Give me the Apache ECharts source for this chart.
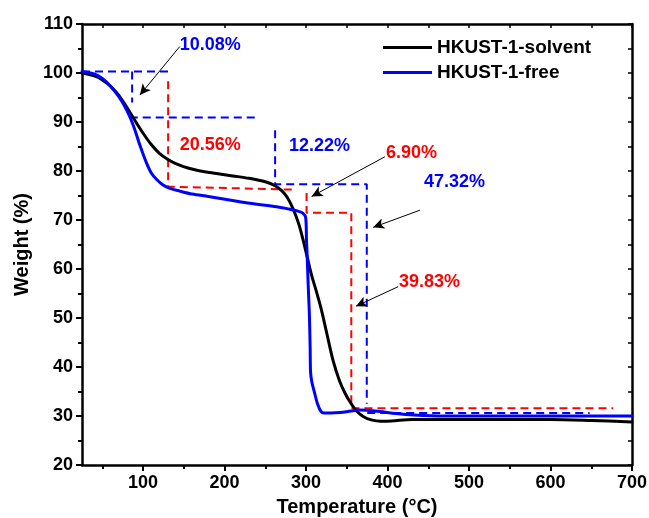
<!DOCTYPE html>
<html>
<head>
<meta charset="utf-8">
<script src="https://cdn.jsdelivr.net/npm/echarts@6/dist/echarts.min.js"></script>
<style>
  html, body { margin: 0; padding: 0; background: #fff; }
  #ec { width: 649px; height: 518px; }
</style>
</head>
<body>
<div id="ec"></div>
<script>
// TGA curves, [temperature, weight %]
const solvent = [
  [25, 100], [40, 99.4], [50, 98.6], [60, 97.3], [70, 95.5], [80, 93.0], [90, 90.3],
  [100, 87.7], [110, 85.4], [120, 83.6], [130, 82.4], [140, 81.5], [155, 80.6], [170, 80.0],
  [190, 79.5], [210, 79.0], [230, 78.5], [250, 77.8], [262, 77.0], [270, 76.0], [277, 74.6],
  [284, 72.3], [291, 69.2], [297, 65.5], [302, 62], [307, 58.6], [312, 55.8], [318, 52.2],
  [325, 47.2], [333, 41.4], [341, 37.2], [348, 34.6], [355, 32.6], [362, 31], [370, 29.9],
  [380, 29.2], [392, 28.95], [405, 29.0], [430, 29.3], [500, 29.3], [600, 29.3], [650, 29.1],
  [700, 28.8]
];
const free = [
  [25, 100.3], [40, 99.8], [50, 98.9], [60, 97.3], [70, 95.2], [80, 92.4], [88, 89.3],
  [96, 85.3], [104, 81.7], [110, 79.6], [117, 78.2], [124, 77.2], [132, 76.5], [145, 75.9],
  [160, 75.3], [180, 74.8], [206, 74.1], [231, 73.4], [264, 72.7], [280, 72.2], [290, 71.8],
  [296, 71.4], [299.5, 70.5], [300.5, 66], [301.5, 61.8], [303, 55], [304, 51], [305, 44],
  [305.5, 39], [307, 37], [310, 35], [314, 32.5], [318, 31], [322, 30.6], [330, 30.6],
  [342, 30.7], [355, 31], [366, 31.2], [378, 31.1], [391, 30.9], [410, 30.5], [432, 30.2],
  [470, 30.0], [550, 30.0], [700, 30.0]
];

// guide lines (dashed)
const blueSteps = [
  [[25, 100.3], [133, 100.3]],
  [[86.5, 100.3], [86.5, 94]],
  [[83.6, 90.9], [243, 90.9]],
  [[262, 88.3], [262, 77.3], [374.5, 77.3], [374.5, 32.5]],
  [[375, 30.6], [648, 30.6]]
];
const redSteps = [
  [[130.7, 98.3], [130.7, 76.8], [284, 76.2]],
  [[300.6, 75.5], [300.6, 71.5], [355.5, 71.5], [355.5, 31.6], [677, 31.6]]
];

// arrows: [from, to]
const arrows = [
  [[145, 105.4], [96, 95.5]],
  [[396.7, 82.9], [306.8, 74.8]],
  [[439.7, 72.0], [382.4, 68.5]],
  [[413.1, 56.4], [361.2, 52.4]]
];

const noteText = ["10.08%", "20.56%", "12.22%", "6.90%", "47.32%", "39.83%"];
const notePos = [[145, 105.7], [145, 85.3], [279, 85.1], [398, 83.7], [444.6, 77.8], [414, 57.3]];
const noteColor = ["#0000ff", "#ff0000", "#0000ff", "#ff0000", "#0000ff", "#ff0000"];

const xLabels = [100, 200, 300, 400, 500, 600, 700];
const xMinor = [50, 150, 250, 350, 450, 550, 650];
const xAll = [50, 100, 150, 200, 250, 300, 350, 400, 450, 500, 550, 600, 650, 700];

const font = "Arial, 'Liberation Sans', sans-serif";
const myChart = echarts.init(document.getElementById("ec"));

function dashed(data, color) {
  return {
    type: "line",
    data: data,
    showSymbol: false,
    silent: true,
    z: 3,
    lineStyle: { color: color, width: 2, type: [8, 5] },
  };
}

const series = [
  {
    name: "HKUST-1-solvent",
    type: "line",
    data: solvent,
    showSymbol: false,
    smooth: 0.3,
    itemStyle: { color: "#000" },
    lineStyle: { color: "#000", width: 3, join: "round", cap: "round" },
    z: 4,
  },
  {
    name: "HKUST-1-free",
    type: "line",
    data: free,
    showSymbol: false,
    smooth: 0.3,
    itemStyle: { color: "#0000ff" },
    lineStyle: { color: "#0000ff", width: 3, join: "round", cap: "round" },
    z: 5,
  },
];
blueSteps.forEach((d) => series.push(dashed(d, "#0000ff")));
redSteps.forEach((d) => series.push(dashed(d, "#ff0000")));

series.push({
  type: "scatter",
  symbolSize: 0,
  silent: true,
  z: 6,
  itemStyle: { opacity: 1 },
  data: noteText.map((t, i) => ({
    value: notePos[i],
    name: t,
    label: { color: noteColor[i] },
  })),
  label: {
    show: true,
    position: "right",
    distance: 0,
    formatter: (p) => p.name,
    fontSize: 18,
    fontWeight: "bold",
    fontFamily: font,
  },
  markLine: {
    silent: true,
    symbol: ["none", "arrow"],
    symbolSize: [8, 11],
    label: { show: false },
    lineStyle: { color: "#000", width: 1, type: "solid", opacity: 1 },
    data: arrows.map((a) => [{ coord: a[0] }, { coord: a[1] }]),
    animation: false,
  },
});

myChart.setOption({
  animation: false,
  grid: { left: 82, right: 17, top: 24, bottom: 53, outerBoundsMode: "none" },
  legend: {
    data: ["HKUST-1-solvent", "HKUST-1-free"],
    orient: "vertical",
    left: 378,
    top: 33,
    icon: "rect",
    itemWidth: 49,
    itemHeight: 3,
    itemGap: 6,
    textStyle: { fontSize: 19, fontWeight: "bold", fontFamily: font, color: "#000" },
  },
  xAxis: [
    {
      type: "value",
      min: 25,
      max: 700,
      position: "bottom",
      axisLine: { show: true, onZero: false, lineStyle: { color: "#000", width: 2.5 } },
      axisTick: { show: true, customValues: xLabels, length: 6, lineStyle: { color: "#000", width: 2 } },
      axisLabel: { customValues: xLabels, fontSize: 18, fontWeight: "bold", fontFamily: font, color: "#000", margin: 9 },
      splitLine: { show: false },
      name: "Temperature (°C)",
      nameLocation: "middle",
      nameGap: 32,
      nameTextStyle: { fontSize: 20, fontWeight: "bold", fontFamily: font, color: "#000" },
    },
    {
      type: "value",
      min: 25,
      max: 700,
      position: "bottom",
      axisLine: { show: false },
      axisTick: { show: true, customValues: xMinor, length: 4, lineStyle: { color: "#000", width: 2 } },
      axisLabel: { show: false },
      splitLine: { show: false },
    },
    {
      type: "value",
      min: 25,
      max: 700,
      position: "top",
      axisLine: { show: true, onZero: false, lineStyle: { color: "#000", width: 2.5 } },
      axisTick: { show: true, inside: true, customValues: xAll, length: 4, lineStyle: { color: "#000", width: 1.5 } },
      axisLabel: { show: false },
      splitLine: { show: false },
    },
  ],
  yAxis: [
    {
      type: "value",
      min: 20,
      max: 110,
      interval: 10,
      axisLine: { show: true, lineStyle: { color: "#000", width: 2.5 } },
      axisTick: { show: true, length: 6, lineStyle: { color: "#000", width: 2 } },
      minorTick: { show: true, splitNumber: 2, length: 4, lineStyle: { color: "#000", width: 2 } },
      axisLabel: { fontSize: 18, fontWeight: "bold", fontFamily: font, color: "#000", margin: 9 },
      splitLine: { show: false },
      name: "Weight (%)",
      nameLocation: "middle",
      nameGap: 48,
      nameTextStyle: { fontSize: 20, fontWeight: "bold", fontFamily: font, color: "#000" },
    },
    {
      type: "value",
      min: 20,
      max: 110,
      interval: 5,
      position: "right",
      axisLine: { show: true, lineStyle: { color: "#000", width: 2.5 } },
      axisTick: { show: true, inside: true, length: 4, lineStyle: { color: "#000", width: 1.5 } },
      axisLabel: { show: false },
      splitLine: { show: false },
    },
  ],
  series: series,
});
</script>
</body>
</html>
